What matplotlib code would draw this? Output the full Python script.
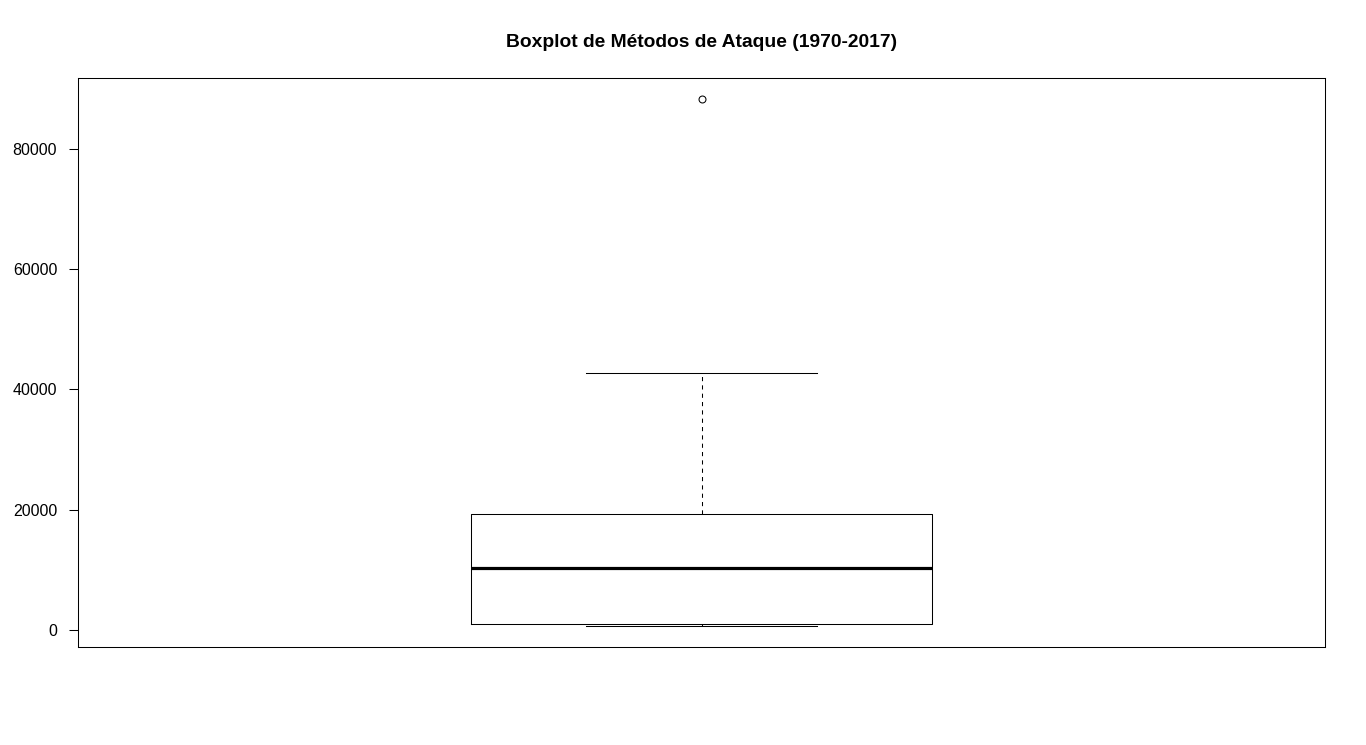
import matplotlib
matplotlib.use("Agg")
from matplotlib import pyplot as plt

# attack type counts, GTD 1970-2017
methods = ['Bombing/Explosion', 'Armed Assault', 'Assassination',
           'Hostage Taking (Kidnapping)', 'Facility/Infrastructure Attack',
           'Unknown', 'Unarmed Assault', 'Hostage Taking (Barricade Incident)',
           'Hijacking']
counts = [88255, 42669, 19312, 11158, 10356, 7276, 1015, 991, 659]

plt.rcParams['font.family'] = ['Liberation Sans', 'DejaVu Sans']

fig = plt.figure(figsize=(13.66, 7.45), dpi=100)
ax = fig.add_axes([78 / 1366, 1 - 647 / 745, (1325 - 78) / 1366, (647 - 78) / 745])

lw = 0.75
ax.boxplot(counts, positions=[1], widths=0.4, capwidths=0.2, whis=1.5,
           boxprops=dict(color='black', linewidth=lw),
           medianprops=dict(color='black', linewidth=2.3),
           whiskerprops=dict(color='black', linewidth=lw, linestyle=(0, (4, 4))),
           capprops=dict(color='black', linewidth=lw),
           flierprops=dict(marker='o', markersize=5, markerfacecolor='none',
                           markeredgecolor='black', markeredgewidth=lw))

lo, hi = min(counts), max(counts)
pad = (hi - lo) * 0.04
ax.set_ylim(lo - pad, hi + pad)
ax.set_xlim(0.46, 1.54)
ax.set_xticks([])
ax.set_yticks([0, 20000, 40000, 60000, 80000])
ax.tick_params(axis='y', length=6.5, width=lw, pad=8.5, labelsize=11.5)
for s in ax.spines.values():
    s.set_linewidth(lw)

ax.set_title('Boxplot de Métodos de Ataque (1970-2017)', fontsize=13.9,
             fontweight='bold', pad=22)

fig.savefig('out.png', dpi=100)
